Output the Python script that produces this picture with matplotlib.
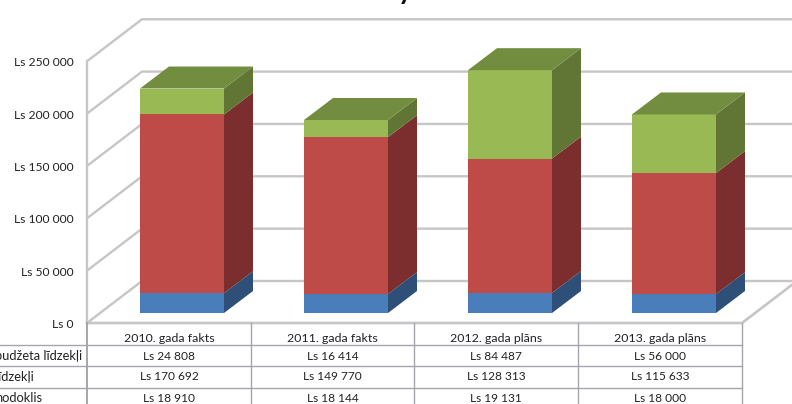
import matplotlib
matplotlib.use("Agg")
import matplotlib.pyplot as plt
from matplotlib.patches import Polygon

plt.rcParams['font.family'] = ['Lato', 'DejaVu Sans']

categories = ['2010. gada fakts', '2011. gada fakts', '2012. gada plāns', '2013. gada plāns']
row_labels = ['budžeta līdzekļi', 'līdzekļi', 'nodoklis']
nodoklis = [18910, 18144, 19131, 18000]
pasu = [170692, 149770, 128313, 115633]
budzets = [24808, 16414, 84487, 56000]
ticks = [0, 50000, 100000, 150000, 200000, 250000]
tick_labels = ['Ls 0', 'Ls 50 000', 'Ls 100 000', 'Ls 150 000', 'Ls 200 000', 'Ls 250 000']

W, H = 792, 404
PX_X = 164.0            # pixels per category
PX_Y = 1.047 / 1000     # pixels per value unit
X0 = 182.0              # pixel of first category centre
Y0 = 313.0              # pixel of value 0 on the bars' front plane

fig = plt.figure(figsize=(W / 100, H / 100), dpi=100, facecolor='white')
ax = fig.add_axes([0, 0, 1, 1])
ax.set_xlim(-X0 / PX_X, (W - X0) / PX_X)
ax.set_ylim(-(H - Y0) / PX_Y, Y0 / PX_Y)
ax.axis('off')

dx = lambda px: px / PX_X
dy = lambda px: px / PX_Y
to_x = lambda p: dx(p - X0)
to_y = lambda p: (Y0 - p) / PX_Y
wall = '#c8c5c5'

# chart frame
fx0, fx1 = to_x(87), to_x(742)
fy = dy(-10)
depth_x, depth_y = dx(55), dy(42)
for t in ticks:
    y = fy + t
    ax.plot([fx0, fx0 + depth_x, fx1 + depth_x], [y, y + depth_y, y + depth_y],
            color=wall, lw=1.7, solid_capstyle='butt', solid_joinstyle='miter', zorder=1)
ax.plot([fx0, fx0], [fy, fy + ticks[-1]], color=wall, lw=1.7, zorder=1)
ax.plot([fx0, fx1, fx1 + depth_x], [fy, fy, fy + depth_y], color=wall, lw=1.9,
        solid_joinstyle='miter', zorder=1)

for t, lab in zip(ticks, tick_labels):
    ax.text(to_x(74), to_y(323 - t * PX_Y + 1.5), lab, ha='right', va='center', fontsize=8.7, color='#222222')

# stacked 3-D bars
half = dx(42)
bx, by = dx(29), dy(22)
series = [(nodoklis, '#4a7ebb', '#2e4f78'),
          (pasu, '#be4b48', '#7b2e2d'),
          (budzets, '#98b954', '#617635')]
top_col = '#728d3f'
for i in range(len(categories)):
    base = 0
    for vals, front, side in series:
        v = vals[i]
        ax.add_patch(Polygon([(i - half, base), (i + half, base), (i + half, base + v), (i - half, base + v)],
                             fc=front, ec='none', zorder=3))
        ax.add_patch(Polygon([(i + half, base), (i + half + bx, base + by), (i + half + bx, base + v + by),
                              (i + half, base + v)], fc=side, ec='none', zorder=3))
        base += v
    ax.add_patch(Polygon([(i - half, base), (i + half, base), (i + half + bx, base + by), (i - half + bx, base + by)],
                         fc=top_col, ec='none', zorder=3))

# data table below the plot
rows_y = [323, 345, 366, 388, 410]
col_x = [87, 251, 414, 578, 742]
table_col = '#a5a5ad'
for j, p in enumerate(col_x):
    ax.plot([to_x(p)] * 2, [to_y(rows_y[0]), to_y(rows_y[-1])],
            color=table_col, lw=1.4 if j == 0 else 1.0, zorder=2)
for p in rows_y[1:-1]:
    ax.plot([to_x(0), to_x(col_x[-1])], [to_y(p), to_y(p)], color=table_col, lw=1.0, zorder=2)

text_ys = [338, 356, 377, 398]
for i, c in enumerate(categories):
    cx = to_x((col_x[i] + col_x[i + 1]) / 2)
    ax.text(cx, to_y(text_ys[0]), c, ha='center', va='center', fontsize=8.9, color='#222222')
    for r, vals in enumerate([budzets, pasu, nodoklis]):
        s = f"Ls {vals[i]:,}".replace(',', ' ')
        ax.text(cx, to_y(text_ys[r + 1]), s, ha='center', va='center', fontsize=8.6, color='#222222')
# the reference crops these row labels at its left edge
for r, lab in enumerate(row_labels):
    ax.text(to_x(-5), to_y(text_ys[r + 1]), lab, ha='left', va='center', fontsize=9.3, color='#222222')

# only the descender of the title survives at the top edge of the reference
ax.text(to_x(405), to_y(-1), 'y', ha='center', va='baseline', fontsize=20, fontweight='bold', color='#111111')

fig.savefig('out.png', dpi=100)
